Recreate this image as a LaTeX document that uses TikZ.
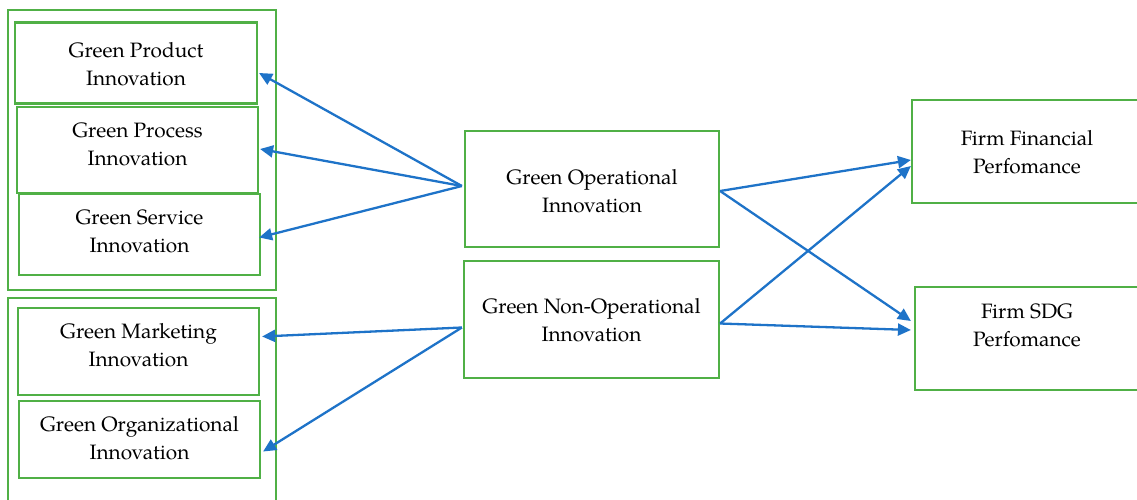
\documentclass[tikz,border=0pt]{standalone}
\usepackage{fontspec}
\setmainfont{TeX Gyre Pagella}
\usetikzlibrary{arrows.meta,calc}
\definecolor{boxgreen}{RGB}{80,176,70}
\definecolor{arrowblue}{RGB}{30,115,200}
\begin{document}
\begin{tikzpicture}[x=1pt,y=-1pt,
  box/.style={draw=boxgreen,line width=2.2pt,rectangle,inner sep=0pt},
  txt/.style={align=center,inner sep=0pt,font=\fontsize{20.8}{28}\selectfont},
  conn/.style={draw=arrowblue,line width=2.3pt,-{Triangle[length=13pt,width=12pt]}}]
\useasboundingbox (0,0) rectangle (1137,499);
\clip (0,0) rectangle (1137,499);
% outer groups
\node[box,minimum width=268pt,minimum height=280pt] (grp1) at (142,150) {};
\node[box,minimum width=268pt,minimum height=222pt] (grp2) at (142,409) {};
% left boxes
\node[box,minimum width=242pt,minimum height=81pt] (gprod) at (136,63) {};
\node[txt] (gprodt) at (136,64) {Green Product\\Innovation};
\node[box,minimum width=241pt,minimum height=86pt] (gproc) at (137.5,150) {};
\node[txt] (gproct) at (137.5,144) {Green Process\\Innovation};
\node[box,minimum width=241pt,minimum height=81pt] (gserv) at (139.5,234.5) {};
\node[txt] (gservt) at (139.5,231) {Green Service\\Innovation};
\node[box,minimum width=241pt,minimum height=87pt] (gmark) at (138.5,351.5) {};
\node[txt] (gmarkt) at (138.5,345.5) {Green Marketing\\Innovation};
\node[box,minimum width=241pt,minimum height=77pt] (gorg) at (139.5,439.5) {};
\node[txt] (gorgt) at (139.5,438.5) {Green Organizational\\Innovation};
% middle boxes
\node[box,minimum width=254pt,minimum height=116pt] (gop) at (592,189) {};
\node[txt] (gopt) at (592,191) {Green Operational\\Innovation};
\node[box,minimum width=255pt,minimum height=117pt] (gnop) at (591.5,319.5) {};
\node[txt] (gnopt) at (591.5,320) {Green Non-Operational\\Innovation};
% right boxes
\node[box,minimum width=236pt,minimum height=103pt] (fin) at (1030,151.5) {};
\node[txt] (fint) at (1027,152) {Firm Financial\\Perfomance};
\node[box,minimum width=233pt,minimum height=103pt] (sdg) at (1031.5,338.5) {};
\node[txt] (sdgt) at (1027,325.5) {Firm SDG\\Perfomance};
% connectors
\coordinate (opw) at ($(gop.west)+(-2,-3)$);
\coordinate (nopw) at ($(gnop.west)+(-1,8)$);
\coordinate (ope) at ($(gop.east)+(0,2)$);
\coordinate (nope) at ($(gnop.east)+(0,4)$);
\draw[conn] (opw) -- ($(gprod.east)+(1,10)$);
\draw[conn] (opw) -- ($(gproc.east)+(1,-1)$);
\draw[conn] (opw) -- ($(gserv.east)+(-2,3)$);
\draw[conn] (nopw) -- ($(gmark.east)+(2,-15)$);
\draw[conn] (nopw) -- ($(gorg.east)+(2,12)$);
\draw[conn] (ope) -- ($(fin.west)+(0,8.5)$);
\draw[conn] (ope) -- ($(sdg.west)+(-3,-17.5)$);
\draw[conn] (nope) -- ($(fin.west)+(0,14.5)$);
\draw[conn] (nope) -- ($(sdg.west)+(-3,-8.5)$);
\end{tikzpicture}
\end{document}
